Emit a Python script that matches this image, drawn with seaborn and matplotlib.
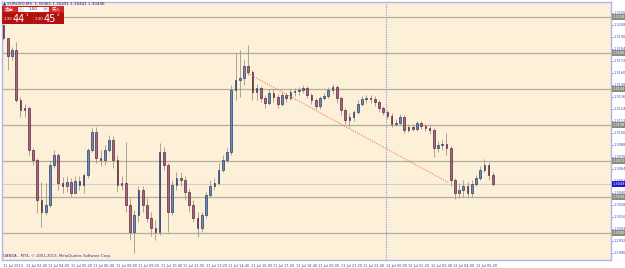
import matplotlib
matplotlib.use("Agg")
import matplotlib.pyplot as plt
from matplotlib.patches import Rectangle
import seaborn as sns
import pandas as pd

# ---------------- data (EURUSD 15-min candles) ----------------
opens = [1.3208, 1.3195, 1.3177, 1.3183, 1.3133, 1.3123, 1.3125, 1.3083, 1.3073, 1.3033,
         1.3021, 1.3028, 1.3068, 1.3078, 1.3050, 1.3047, 1.3051, 1.3040, 1.3052, 1.3048,
         1.3058, 1.3083, 1.3101, 1.3075, 1.3073, 1.3083, 1.3093, 1.3073, 1.3048, 1.3050,
         1.3028, 1.3001, 1.3018, 1.3043, 1.3028, 1.3015, 1.3005, 1.3001, 1.3081, 1.3068,
         1.3021, 1.3048, 1.3055, 1.3053, 1.3041, 1.3028, 1.3015, 1.3005, 1.3018, 1.3038,
         1.3047, 1.3050, 1.3063, 1.3073, 1.3081, 1.3143, 1.3153, 1.3155, 1.3167, 1.3161,
         1.3141, 1.3145, 1.3135, 1.3130, 1.3140, 1.3136, 1.3129, 1.3138, 1.3135, 1.3141,
         1.3142, 1.3143, 1.3145, 1.3138, 1.3133, 1.3127, 1.3135, 1.3137, 1.3143, 1.3146,
         1.3135, 1.3123, 1.3113, 1.3116, 1.3121, 1.3129, 1.3134, 1.3135, 1.3134, 1.3131,
         1.3125, 1.3121, 1.3117, 1.3109, 1.3110, 1.3116, 1.3103, 1.3106, 1.3104, 1.3110,
         1.3107, 1.3105, 1.3103, 1.3085, 1.3088, 1.3089, 1.3085, 1.3053, 1.3040, 1.3043,
         1.3047, 1.3040, 1.3049, 1.3055, 1.3063, 1.3068, 1.3058]
highs = [1.3209, 1.3195, 1.3186, 1.3191, 1.3136, 1.3129, 1.3127, 1.3085, 1.3075, 1.3051,
         1.3050, 1.3073, 1.3083, 1.3080, 1.3056, 1.3057, 1.3055, 1.3057, 1.3057, 1.3060,
         1.3085, 1.3105, 1.3106, 1.3083, 1.3088, 1.3098, 1.3097, 1.3078, 1.3057, 1.3091,
         1.3035, 1.3023, 1.3047, 1.3047, 1.3035, 1.3021, 1.3013, 1.3090, 1.3086, 1.3070,
         1.3053, 1.3061, 1.3061, 1.3057, 1.3045, 1.3033, 1.3021, 1.3021, 1.3041, 1.3053,
         1.3055, 1.3070, 1.3078, 1.3085, 1.3148, 1.3180, 1.3183, 1.3173, 1.3188, 1.3163,
         1.3149, 1.3147, 1.3138, 1.3144, 1.3144, 1.3139, 1.3141, 1.3140, 1.3144, 1.3145,
         1.3146, 1.3148, 1.3147, 1.3140, 1.3135, 1.3137, 1.3140, 1.3146, 1.3149, 1.3148,
         1.3137, 1.3125, 1.3120, 1.3123, 1.3133, 1.3137, 1.3138, 1.3138, 1.3137, 1.3133,
         1.3127, 1.3123, 1.3120, 1.3114, 1.3119, 1.3118, 1.3109, 1.3109, 1.3112, 1.3112,
         1.3109, 1.3108, 1.3105, 1.3092, 1.3093, 1.3100, 1.3087, 1.3055, 1.3050, 1.3053,
         1.3051, 1.3053, 1.3058, 1.3067, 1.3074, 1.3071, 1.3061]
lows = [1.3193, 1.3163, 1.3173, 1.3131, 1.3116, 1.3116, 1.3078, 1.3068, 1.3020, 1.3006,
        1.3018, 1.3026, 1.3065, 1.3043, 1.3040, 1.3041, 1.3036, 1.3046, 1.3043, 1.3040,
        1.3055, 1.3081, 1.3070, 1.3067, 1.3068, 1.3081, 1.3065, 1.3041, 1.3043, 1.3021,
        1.2993, 1.2980, 1.3011, 1.3021, 1.3011, 1.2997, 1.2993, 1.2998, 1.3063, 1.3001,
        1.3018, 1.3043, 1.3047, 1.3033, 1.3021, 1.3011, 1.2996, 1.3001, 1.3015, 1.3036,
        1.3043, 1.3048, 1.3061, 1.3071, 1.3078, 1.3133, 1.3136, 1.3148, 1.3158, 1.3133,
        1.3133, 1.3131, 1.3125, 1.3128, 1.3131, 1.3125, 1.3127, 1.3131, 1.3133, 1.3137,
        1.3138, 1.3140, 1.3135, 1.3129, 1.3124, 1.3124, 1.3133, 1.3135, 1.3139, 1.3130,
        1.3118, 1.3109, 1.3106, 1.3112, 1.3119, 1.3127, 1.3130, 1.3130, 1.3127, 1.3121,
        1.3118, 1.3114, 1.3106, 1.3107, 1.3108, 1.3100, 1.3101, 1.3102, 1.3102, 1.3104,
        1.3102, 1.3099, 1.3076, 1.3081, 1.3083, 1.3078, 1.3047, 1.3034, 1.3035, 1.3036,
        1.3036, 1.3036, 1.3047, 1.3053, 1.3061, 1.3053, 1.3047]
closes = [1.3195, 1.3177, 1.3183, 1.3133, 1.3123, 1.3125, 1.3083, 1.3073, 1.3033, 1.3021,
          1.3028, 1.3068, 1.3078, 1.3050, 1.3047, 1.3051, 1.3040, 1.3052, 1.3048, 1.3058,
          1.3083, 1.3101, 1.3075, 1.3073, 1.3083, 1.3093, 1.3073, 1.3048, 1.3050, 1.3028,
          1.3001, 1.3018, 1.3043, 1.3028, 1.3015, 1.3005, 1.3001, 1.3081, 1.3068, 1.3021,
          1.3048, 1.3055, 1.3053, 1.3041, 1.3028, 1.3015, 1.3005, 1.3018, 1.3038, 1.3047,
          1.3050, 1.3063, 1.3073, 1.3081, 1.3143, 1.3153, 1.3155, 1.3167, 1.3161, 1.3141,
          1.3145, 1.3135, 1.3130, 1.3140, 1.3136, 1.3129, 1.3138, 1.3135, 1.3141, 1.3142,
          1.3143, 1.3145, 1.3138, 1.3133, 1.3127, 1.3135, 1.3137, 1.3143, 1.3146, 1.3135,
          1.3123, 1.3113, 1.3116, 1.3121, 1.3129, 1.3134, 1.3135, 1.3134, 1.3131, 1.3125,
          1.3121, 1.3117, 1.3109, 1.3110, 1.3116, 1.3103, 1.3106, 1.3104, 1.3110, 1.3107,
          1.3105, 1.3103, 1.3085, 1.3088, 1.3089, 1.3085, 1.3053, 1.3040, 1.3043, 1.3047,
          1.3040, 1.3049, 1.3055, 1.3063, 1.3068, 1.3058, 1.3049]

first_bar_minute = 80          # 11 Jul 01:20
bar_minutes = 15

time_labels = ["11 Jul 2013", "11 Jul 02:40", "11 Jul 04:00", "11 Jul 05:20", "11 Jul 06:40",
               "11 Jul 08:00", "11 Jul 09:20", "11 Jul 10:40", "11 Jul 12:00", "11 Jul 13:20",
               "11 Jul 14:40", "11 Jul 16:00", "11 Jul 17:20", "11 Jul 18:40", "11 Jul 20:00",
               "11 Jul 21:20", "11 Jul 22:40", "12 Jul 00:00", "12 Jul 01:20", "12 Jul 02:40",
               "12 Jul 04:00", "12 Jul 05:20"]
time_label_minutes = [80, 160, 240, 320, 400, 480, 560, 640, 720, 800, 880, 960, 1040, 1120,
                      1200, 1280, 1360, 1440, 1520, 1600, 1680, 1760]

price_ticks = [1.2980, 1.2992, 1.3004, 1.3016, 1.3028, 1.3040, 1.3052, 1.3064, 1.3076,
               1.3088, 1.3100, 1.3112, 1.3124, 1.3136, 1.3148, 1.3160, 1.3172, 1.3184,
               1.3196, 1.3208, 1.3220]
level_lines = [1.3000, 1.3036, 1.3072, 1.3108, 1.3144, 1.3180, 1.3216]
bid_price = 1.3049
day_separator_minute = 1440

trend_minutes = [940, 1665]
trend_prices = [1.3161, 1.3050]

title_text = "\u25b2 EURUSD,M5  1.30481 1.30491 1.30441 1.30446"
copyright_text = "OANDA - MT4, \u00a9 2001-2013, MetaQuotes Software Corp."

# ---------------- style ----------------
sns.set_style("white")
plt.rcParams['font.family'] = ['DejaVu Sans']
BG = "#fdf0d8"
BULL_FILL, BULL_EDGE = "#6d8cae", "#0c1c5c"
BEAR_FILL, BEAR_EDGE = "#a8657f", "#3a0c22"
WICK = "#9e9884"
AXIS = "#b4b4e4"
LEVEL = "#b3ad9c"
TICKTXT = "#4848c0"

W, H = 625, 268
fig = plt.figure(figsize=(W / 100, H / 100), dpi=100, facecolor="white")
ax = fig.add_axes([2 / W, 1 - 260 / H, 609 / W, 258 / H])
ax.set_facecolor(BG)

df = pd.DataFrame({"o": opens, "h": highs, "l": lows, "c": closes})
df["t"] = first_bar_minute + bar_minutes * df.index

# level lines
for lv in level_lines:
    ax.axhline(lv, color=LEVEL, lw=0.9, zorder=1)
ax.axhline(bid_price, color="#d4d0c8", lw=0.8, zorder=1)
ax.axvline(day_separator_minute, color="#9c9cec", lw=0.9, ls=(0, (1, 1)), zorder=1)

# candles
for _, r in df.iterrows():
    up = r.c >= r.o
    ax.vlines(r.t, r.l, r.h, color=WICK, lw=0.6, zorder=2)
    body = abs(r.c - r.o)
    if body < 0.00005:
        body = 0.00005
    ax.bar(r.t, body, bottom=min(r.o, r.c), width=6.0,
           color=BULL_FILL if up else BEAR_FILL,
           edgecolor=BULL_EDGE if up else BEAR_EDGE, lw=0.4, zorder=3)

# trend line
sns.lineplot(x=trend_minutes, y=trend_prices, ax=ax, color="#f07878", lw=0.8,
             linestyle=(0, (1, 1.2)), zorder=4)

ax.set_xlim(74.7, 74.7 + 609 / 0.28125)
ax.set_ylim(1.2973, 1.3231)

# axes
for s in ax.spines.values():
    s.set_color(AXIS)
    s.set_linewidth(1.0)
ax.yaxis.tick_right()
ax.set_yticks(price_ticks)
ax.set_yticklabels([f"{p:.4f}" for p in price_ticks], fontsize=2.5, color=TICKTXT)
ax.tick_params(axis="y", length=1.2, width=0.5, color=TICKTXT, pad=0.6)
ax.set_xticks(time_label_minutes)
ax.set_xticklabels(time_labels, fontsize=2.5, color="#404080")
for lbl in ax.get_xticklabels():
    lbl.set_ha("left")
ax.tick_params(axis="x", length=2, width=0.5, color="#404080", pad=0.8)
ax.grid(False)


def fx(x):
    return x / W


def fy(y):
    return 1 - y / H


# price-axis boxes for level lines and bid
for lv in level_lines + [bid_price]:
    is_bid = lv == bid_price
    ax.annotate(f"{lv:.4f}", xy=(1.0, lv), xycoords=("axes fraction", "data"),
                xytext=(1.2, 0), textcoords="offset points", fontsize=2.5,
                color="white", va="center", ha="left", annotation_clip=False,
                zorder=6,
                bbox=dict(boxstyle="square,pad=0.15",
                          fc="#1c1cd0" if is_bid else "#8c8c80", ec="none"))

# header text
fig.text(fx(3), fy(3.2), title_text, fontsize=3.0, color="#202080", va="center", ha="left")

# one-click trading panel
def rect(x0, y0, x1, y1, fc, ec="none", lw=0.0):
    fig.add_artist(Rectangle((fx(x0), fy(y1)), (x1 - x0) / W, (y1 - y0) / H,
                             transform=fig.transFigure, fc=fc, ec=ec, lw=lw, zorder=10))

rect(2, 5.5, 64, 24, "#c81818")
rect(2.5, 6, 17, 12, "#d42a2a")
rect(49, 6, 63.5, 12, "#d42a2a")
rect(17.5, 6.5, 23.5, 11.5, "#e8e8e8")
rect(43, 6.5, 48.5, 11.5, "#e8e8e8")
rect(23.5, 6.5, 43, 11.5, "white")
rect(2.5, 12.5, 32.5, 23.5, "#b01010")
rect(33.5, 12.5, 63.5, 23.5, "#b01010")
cjk = ["Noto Sans CJK SC", "DejaVu Sans"]
fig.text(fx(9.5), fy(9), "卖出", fontsize=3.2, color="white", ha="center", va="center",
         family=cjk, zorder=11)
fig.text(fx(56), fy(9), "买入", fontsize=3.2, color="white", ha="center", va="center",
         family=cjk, zorder=11)
fig.text(fx(20.5), fy(9), "-", fontsize=3, color="#555", ha="center", va="center", zorder=11)
fig.text(fx(45.7), fy(9), "+", fontsize=3, color="#555", ha="center", va="center", zorder=11)
fig.text(fx(33), fy(9), "1.00", fontsize=3, color="#222", ha="center", va="center", zorder=11)
fig.text(fx(8), fy(19), "1.30", fontsize=2.8, color="white", ha="center", va="center", zorder=11)
fig.text(fx(13), fy(18.5), "44", fontsize=7, color="white", ha="left", va="center", zorder=11)
fig.text(fx(25.5), fy(15.5), "1", fontsize=3, color="white", ha="left", va="center", zorder=11)
fig.text(fx(39), fy(19), "1.30", fontsize=2.8, color="white", ha="center", va="center", zorder=11)
fig.text(fx(44), fy(18.5), "45", fontsize=7, color="white", ha="left", va="center", zorder=11)
fig.text(fx(56.5), fy(15.5), "2", fontsize=3, color="white", ha="left", va="center", zorder=11)

# copyright
fig.text(fx(3), fy(256.5), copyright_text, fontsize=2.7, color="#303080", ha="left", va="center")

fig.savefig("out.png", dpi=100, facecolor="white")
